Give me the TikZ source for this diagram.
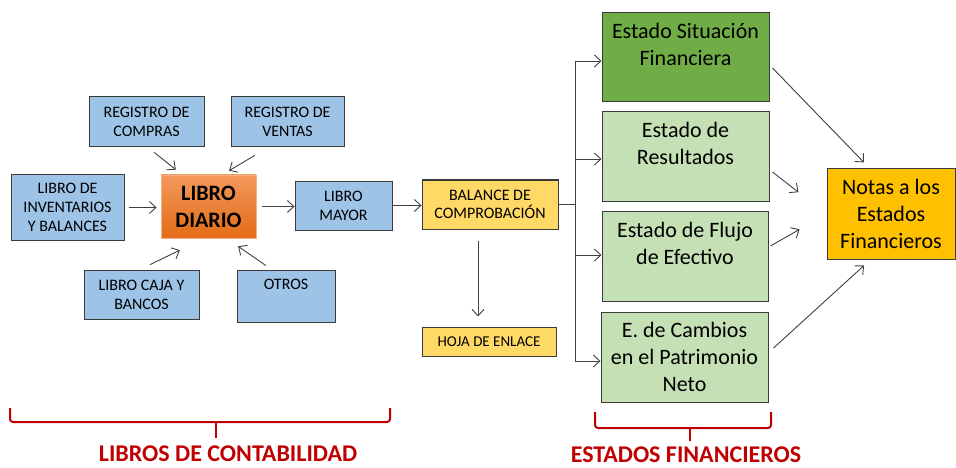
\documentclass[tikz,border=0pt]{standalone}
\usepackage{fontspec}
\setmainfont{Carlito}
\usetikzlibrary{arrows.meta}
\definecolor{bluef}{HTML}{9DC3E6}
\definecolor{yellowf}{HTML}{FFD966}
\definecolor{darkg}{HTML}{70AD47}
\definecolor{lightg}{HTML}{C5E0B4}
\definecolor{notasf}{HTML}{FFC000}
\definecolor{redb}{HTML}{C00000}
\definecolor{orT}{HTML}{F3985C}
\definecolor{orB}{HTML}{E36C17}
\definecolor{orL}{HTML}{F4B183}
\definecolor{edge}{HTML}{3A3A3A}
\definecolor{arrc}{HTML}{404040}
\begin{document}
\begin{tikzpicture}[x=1pt,y=-1pt,
  box/.style={draw=edge, line width=1pt, inner sep=0pt, align=center},
  bluebox/.style={box, fill=bluef, font=\fontsize{16}{19}\selectfont},
  greenbox/.style={box, fill=lightg, minimum width=167pt, minimum height=89pt},
  gtext/.style={align=center, inner sep=0pt, font=\fontsize{22}{27}\selectfont},
  arr/.style={draw=arrc, line width=0.9pt, -{Straight Barb[length=6.5pt,width=12pt]}},
  conn/.style={draw=arrc, line width=0.9pt},
  bracepath/.style={draw=redb, line width=2pt, rounded corners=3pt},
  blabel/.style={text=redb, font=\fontsize{24}{28}\selectfont\bfseries, inner sep=0pt}]
\useasboundingbox (0,0) rectangle (956,468);

% Libros
\node[bluebox, minimum width=115pt, minimum height=50pt] (compras) at (146.5,122) {REGISTRO DE\\COMPRAS};
\node[bluebox, minimum width=113pt, minimum height=50pt] (ventas) at (287.5,122) {REGISTRO DE\\VENTAS};
\node[bluebox, minimum width=113pt, minimum height=65pt] (invent) at (67.5,207.5) {LIBRO DE\\INVENTARIOS\\Y BALANCES};
\node[box, draw=orL, line width=0.8pt, top color=orT, bottom color=orB, minimum width=95pt, minimum height=63pt, font=\fontsize{22}{27}\selectfont\bfseries] (diario) at (208.5,206.5) {LIBRO\\DIARIO};
\node[bluebox, minimum width=97pt, minimum height=49pt] (mayor) at (343.5,205.5) {LIBRO\\MAYOR};
\node[bluebox, minimum width=115pt, minimum height=49pt] (caja) at (141.5,294.5) {LIBRO CAJA Y\\BANCOS};
\node[bluebox, minimum width=98pt, minimum height=52pt] (otros) at (286,296) {};
\node[font=\fontsize{16}{19}\selectfont, inner sep=0pt] (otrost) at (286,284) {OTROS};

% Balance
\node[box, fill=yellowf, minimum width=136pt, minimum height=49pt, font=\fontsize{16}{18.5}\selectfont] (balance) at (490,204.5) {BALANCE DE\\COMPROBACIÓN};
\node[box, fill=yellowf, minimum width=134pt, minimum height=29pt, font=\fontsize{15}{18}\selectfont] (hoja) at (489,341.5) {HOJA DE ENLACE};

% Estados
\node[greenbox, fill=darkg] (sit) at (685.5,57.5) {};
\node[gtext] (sitt) at (685.5,44) {Estado Situación\\Financiera};
\node[greenbox] (res) at (685.5,156.5) {};
\node[gtext] (rest) at (685.5,143.5) {Estado de\\Resultados};
\node[greenbox, minimum width=166pt, minimum height=90pt] (flu) at (685,256) {};
\node[gtext] (flut) at (685,243) {Estado de Flujo\\de Efectivo};
\node[greenbox, minimum width=167pt, minimum height=90pt, font=\fontsize{22}{27}\selectfont] (cam) at (684.5,357) {E. de Cambios\\en el Patrimonio\\Neto};
\node[box, fill=notasf, minimum width=128pt, minimum height=90pt, font=\fontsize{22}{27}\selectfont] (notas) at (891,214) {Notas a los\\Estados\\Financieros};

% Arrows into Libro Diario
\draw[arr, shorten <=8pt, shorten >=8pt] ([xshift=1.5pt]compras.south) -- ([xshift=-26.4pt]diario.north);
\draw[arr, shorten <=15.3pt, shorten >=7.6pt] ([xshift=-19.5pt]ventas.south) -- ([xshift=14pt]diario.north);
\draw[arr, shorten <=4pt, shorten >=4pt] (invent.east) -- (invent.east -| diario.west);
\draw[arr, shorten <=11.2pt, shorten >=26.8pt] ([xshift=-1.5pt]caja.north) -- ([xshift=-4.5pt]diario.south);
\draw[arr, shorten <=6.9pt, shorten >=13.8pt] ([xshift=-14.4pt]otros.north) -- ([xshift=18.3pt]diario.south);

\draw[arr, shorten <=6pt] (diario.east) -- (diario.east -| mayor.west);
\draw[arr] (mayor.east) -- (mayor.east -| balance.west);
\draw[arr, shorten <=11pt, shorten >=10pt] ([xshift=-12pt]balance.south) -- ([xshift=-11pt]hoja.north);

% Bus to estados
\coordinate (bus) at (575,204.5);
\coordinate (sitin) at ([yshift=-3.5pt]sit.west);
\coordinate (resin) at ([yshift=-2.5pt]res.west);
\coordinate (fluin) at ([yshift=1pt]flu.west);
\coordinate (camin) at ([yshift=-4pt]cam.west);
\draw[conn] (balance.east) -- (bus);
\draw[conn] (bus |- sitin) -- (bus |- camin);
\draw[arr] (bus |- sitin) -- (sitin);
\draw[arr] (bus |- resin) -- (resin);
\draw[arr] (bus |- fluin) -- (fluin);
\draw[arr] (bus |- camin) -- (camin);

% Arrows to notas
\draw[arr, shorten <=4.3pt, shorten >=8.4pt] ([yshift=-7.4pt]sit.east) -- ([xshift=-21.2pt]notas.north);
\draw[arr, shorten <=3.8pt, shorten >=35.5pt] ([yshift=-13.2pt]res.east) -- (notas.west);
\draw[arr, shorten <=2.3pt, shorten >=31pt] ([yshift=8.9pt]flu.east) -- (notas.west);
\draw[arr, shorten <=6.8pt, shorten >=8.9pt] ([yshift=4.4pt]cam.east) -- ([xshift=-20.4pt]notas.south);

% Braces
\draw[bracepath] (10,408) -- (10,422) -- (390,422) -- (390,408);
\draw[bracepath] (216,422) -- (216,438);
\draw[bracepath] (595,412) -- (595,428) -- (771,428) -- (771,412);
\draw[bracepath] (690,428) -- (690,441);

\node[blabel] (libros) at (228,454) {LIBROS DE CONTABILIDAD};
\node[blabel] (estados) at (686,455) {ESTADOS FINANCIEROS};
\end{tikzpicture}
\end{document}
